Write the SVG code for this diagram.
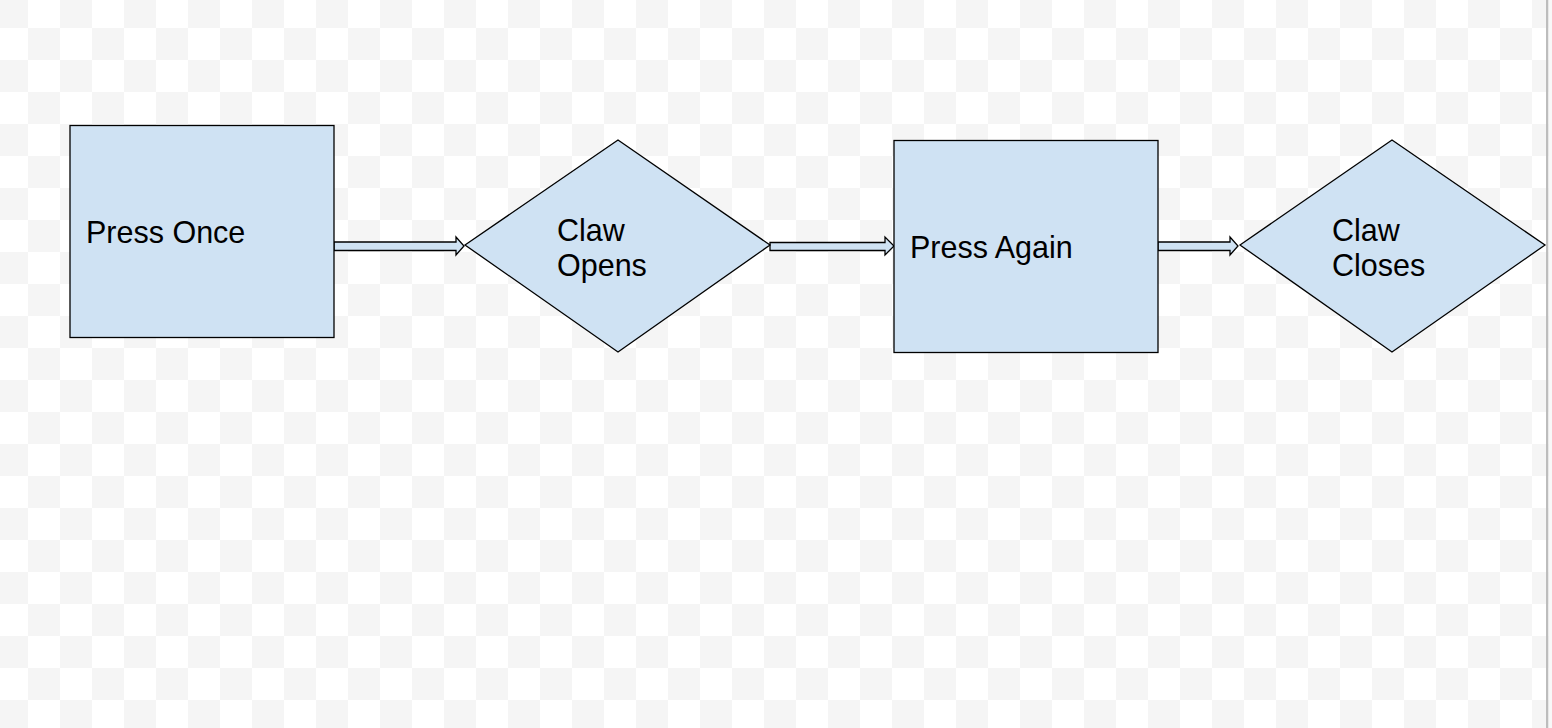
<svg xmlns="http://www.w3.org/2000/svg" width="1552" height="728" viewBox="0 0 1552 728">
<defs>
<pattern id="checker" patternUnits="userSpaceOnUse" x="-4" y="-4" width="64" height="64">
<rect x="0" y="0" width="64" height="64" fill="#ffffff"/>
<rect x="0" y="0" width="32" height="32" fill="#f5f5f5"/>
<rect x="32" y="32" width="32" height="32" fill="#f5f5f5"/>
</pattern>
</defs>
<style>
.shape{fill:#cfe2f3;stroke:#000;stroke-width:1.3}
.arrow{fill:#cfe2f3;stroke:#000;stroke-width:1.3;stroke-linejoin:miter}
.label{font-family:"Liberation Sans",Arial,sans-serif;font-size:30.5px;fill:#000}
</style>
<rect x="0" y="0" width="1552" height="728" fill="url(#checker)"/>
<g id="connectors">
<polygon class="arrow" points="334,242 456,242 456,237 464,246 456,255 456,250.5 334,250.5"/>
<polygon class="arrow" points="770,242.5 885,242.5 885,237 894,246 885,255 885,250.5 770,250.5"/>
<polygon class="arrow" points="1158,242 1230,242 1230,237 1238,246 1230,255 1230,250.5 1158,250.5"/>
</g>
<g id="press-once">
<rect class="shape" x="70" y="125.5" width="264" height="212"/>
<text class="label" x="86" y="243">Press Once</text>
</g>
<g id="claw-opens">
<polygon class="shape" points="465,245 618,140 770,245 618,352"/>
<text class="label" x="557" y="241">Claw</text>
<text class="label" x="557" y="276">Opens</text>
</g>
<g id="press-again">
<rect class="shape" x="894" y="140.5" width="264" height="212"/>
<text class="label" x="910" y="258">Press Again</text>
</g>
<g id="claw-closes">
<polygon class="shape" points="1240,245 1392,140 1545,245 1392,352"/>
<text class="label" x="1332" y="241">Claw</text>
<text class="label" x="1332" y="276">Closes</text>
</g>
<rect x="1546" y="0" width="2.5" height="728" fill="#bdbdbd"/>
<rect x="1548.5" y="0" width="3.5" height="728" fill="#f8f8f8"/>
</svg>
